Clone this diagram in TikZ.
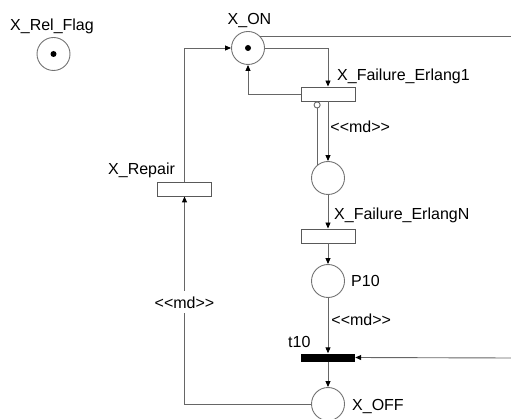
\documentclass[tikz,border=0pt]{standalone}
\usepackage{fontspec}
\setmainfont{Liberation Sans}
\usetikzlibrary{arrows.meta}
\tikzset{
  lbl/.style={inner sep=0pt, font=\fontsize{16}{19}\selectfont, text=black},
  place/.style={circle, draw=black!55, line width=0.9pt, minimum size=33pt, inner sep=0pt},
  trans/.style={rectangle, draw=black!65, line width=0.9pt, minimum width=54pt, minimum height=14pt, inner sep=0pt},
  imm/.style={rectangle, fill=black, minimum width=54pt, minimum height=8pt, inner sep=0pt},
  arc/.style={draw=black!60, line width=0.9pt, -{Triangle[length=6pt,width=5pt,fill=black,color=black]}},
  plain/.style={draw=black!60, line width=0.9pt},
  inhib/.style={draw=black!60, line width=0.9pt, -{Circle[open,length=7pt,width=7pt,fill=white]}},
  token/.style={circle, fill=black, minimum size=6pt, inner sep=0pt}
}
\begin{document}
\begin{tikzpicture}[x=1pt,y=-1pt]
\useasboundingbox (0,0) rectangle (511,419);
% places
\node[place] (relflag) at (53.5,54) {};
\node[token] (relflagtok) at (relflag.center) {};
\node[place] (on) at (248,48) {};
\node[token] (ontok) at (on.center) {};
\node[place] (p1) at (328,178) {};
\node[place] (p10) at (328,281) {};
\node[place] (off) at (328,404) {};
% transitions
\node[trans] (erl1) at (328,94) {};
\node[trans] (erlN) at (328,236) {};
\node[trans] (rep) at (184.5,189) {};
\node[imm] (t10) at (328,357.5) {};
% free ends
\coordinate (outR1) at (511,36);
\coordinate (outR2) at (511,358);
% labels
\node[lbl, anchor=base west] (lrel) at (10,31) {X\_Rel\_Flag};
\node[lbl, anchor=base] (lon) at (249.5,25) {X\_ON};
\node[lbl, anchor=base west] (lerl1) at (337,81) {X\_Failure\_Erlang1};
\node[lbl, anchor=base west] (lerlN) at (334,220) {X\_Failure\_ErlangN};
\node[lbl, anchor=base west] (lrep) at (108,175) {X\_Repair};
\node[lbl, anchor=base west] (lp10) at (351,287) {P10};
\node[lbl, anchor=base west] (lt10) at (288,348) {t10};
\node[lbl, anchor=base west] (loff) at (352,410) {X\_OFF};
% arcs
\draw[arc] (rep.north) |- (on.west);
\draw[arc] (on.east) -| (erl1.north);
\draw[arc] (erl1.west) -| (on.south);
\draw[plain] (on.45) -- (on.45 -| outR1);
\draw[arc] (erl1.south) -- node[lbl, right=2pt, pos=0.43] (md1) {<{}<md>{}>} (p1.north);
\draw[inhib] (p1.130) -- (p1.130 |- erl1.south);
\draw[arc] (p1.south) -- (erlN.north);
\draw[arc] (erlN.south) -- (p10.north);
\draw[arc] (p10.south) -- node[lbl, right=3pt, pos=0.4] (md2) {<{}<md>{}>} (t10.north);
\draw[arc] (outR2) -- (t10.east);
\draw[arc] (t10.south) -- (off.north);
\draw[arc] (off.west) -| node[lbl, pos=0.745, fill=white, inner xsep=2pt, inner ysep=5pt] (md3) {<{}<md>{}>} (rep.south);
\end{tikzpicture}
\end{document}
